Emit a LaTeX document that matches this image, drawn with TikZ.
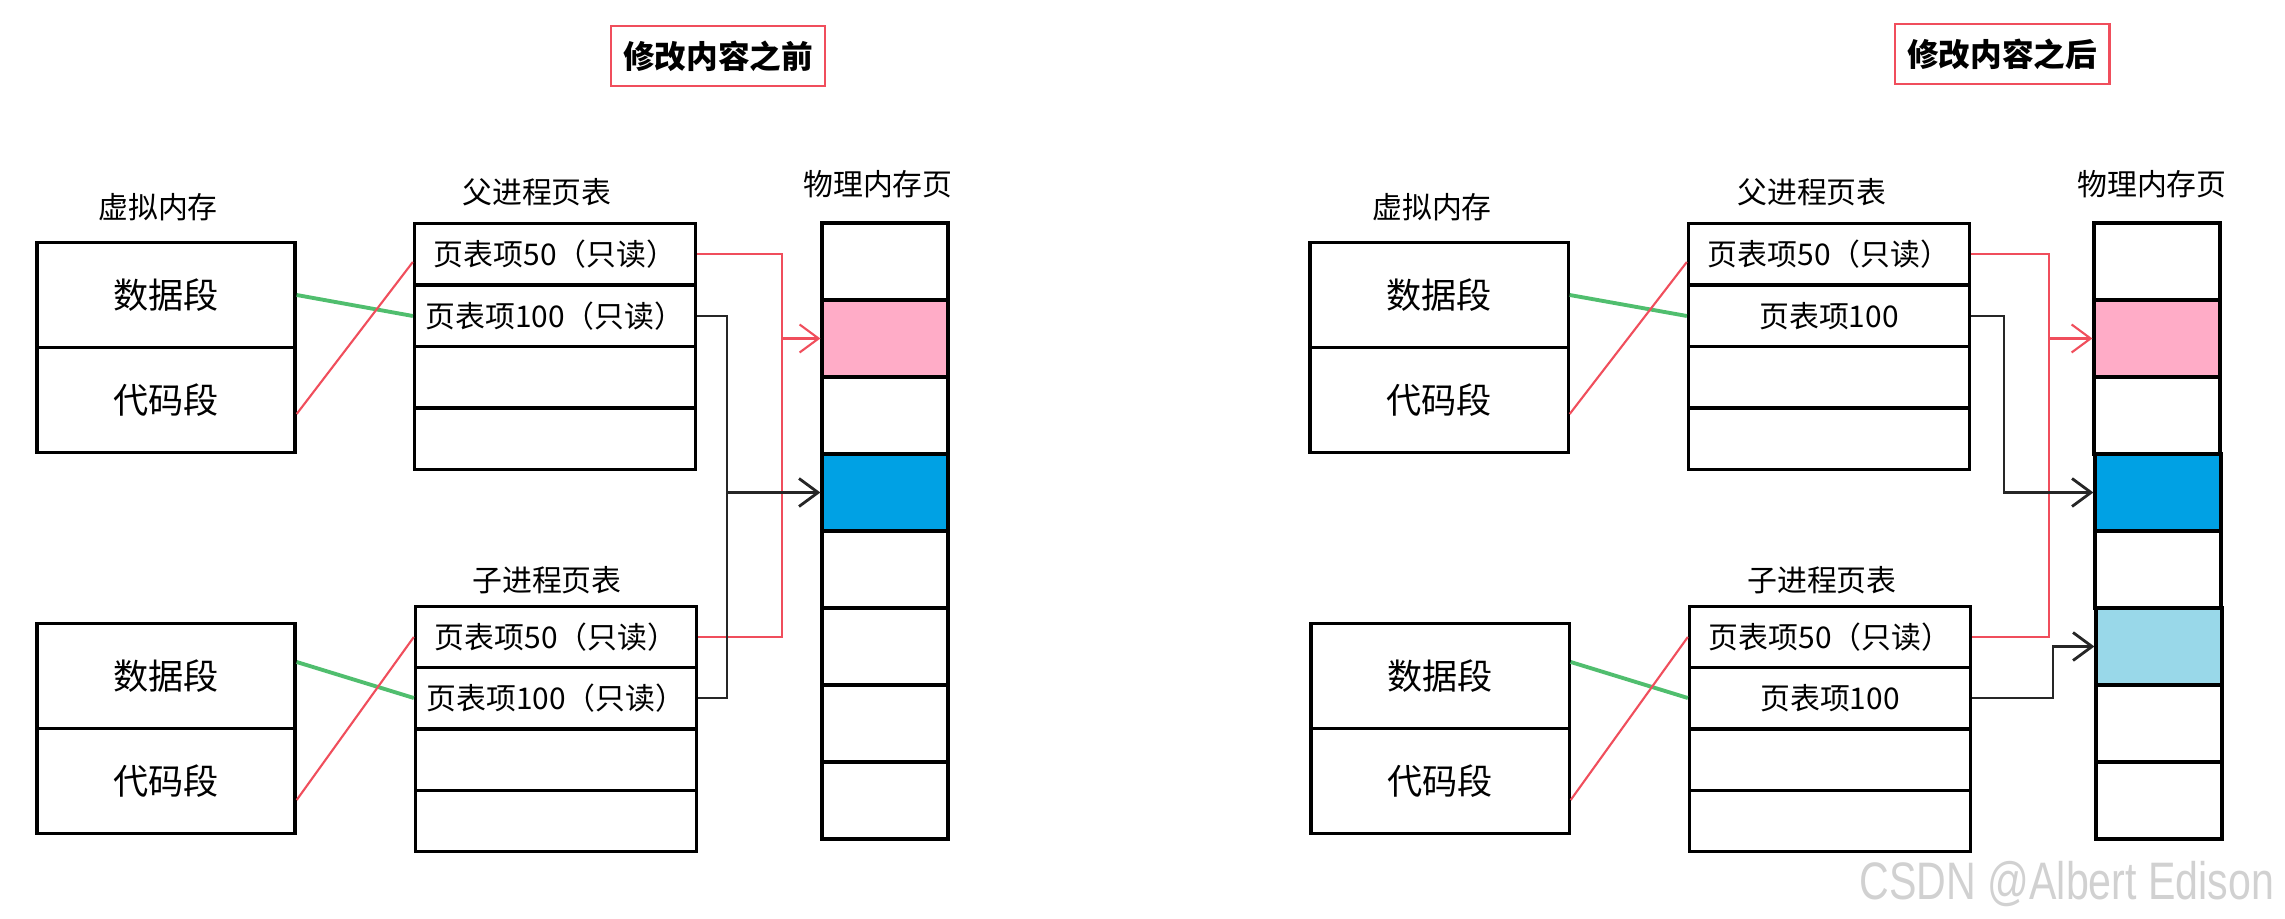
\documentclass[tikz,border=0pt]{standalone}
\usepackage{fontspec}
\setmainfont{Noto Sans CJK SC}
\newfontfamily\wmfont{Liberation Sans}
\usetikzlibrary{arrows.meta}

\definecolor{linered}{RGB}{240,78,92}
\definecolor{linegreen}{RGB}{80,190,110}
\definecolor{pagepink}{RGB}{255,172,199}
\definecolor{pageblue}{RGB}{0,161,228}
\definecolor{pagelight}{RGB}{153,216,233}

\tikzset{
  vcell/.style={draw, line width=0.9pt, minimum width=2.58cm, minimum height=1.05cm,
    inner sep=0pt, font=\fontsize{10}{12}\selectfont},
  pcell/.style={draw, line width=0.9pt, minimum width=2.81cm, minimum height=0.615cm,
    inner sep=0pt, font=\fontsize{8.5}{10}\selectfont},
  mcell/.style={draw, line width=0.9pt, minimum width=1.26cm, minimum height=0.77cm,
    inner sep=0pt},
  titlebox/.style={draw=linered, line width=0.8pt, minimum width=2.14cm,
    minimum height=0.6cm, font=\fontsize{9}{11}\selectfont\bfseries},
  lbl/.style={draw=none, font=\fontsize{8.5}{10}\selectfont},
  redwire/.style={draw=linered, line width=0.6pt},
  greenwire/.style={draw=linegreen, line width=1.1pt},
  blackwire/.style={draw=black!85, line width=0.8pt},
  barb/.style={-{Straight Barb[length=1.9mm,width=2.8mm]}},
}

\begin{document}
\begin{tikzpicture}[x=0.01cm, y=-0.01cm]
  \useasboundingbox (0,0) rectangle (2285,919);

  % before
  \node (t1) at (718,56) [titlebox] {修改内容之前};
  \node (vl) at (158,207) [lbl] {虚拟内存};
  \node (pl) at (537,192) [lbl] {父进程页表};
  \node (ml) at (878,184) [lbl] {物理内存页};
  \node (cl) at (547,580) [lbl] {子进程页表};

  \node (ds) at (166,295) [vcell] {数据段};
  \node (cs) at (166,400) [vcell] {代码段};
  \node (ds2) at (166,676) [vcell] {数据段};
  \node (cs2) at (166,781) [vcell] {代码段};

  \node (p1) at (555,254) [pcell] {页表项50（只读）};
  \node (p2) at (555,316) [pcell] {页表项100（只读）};
  \node (p3) at (555,377) [pcell] {};
  \node (p4) at (555,439) [pcell] {};
  \node (c1) at (556,637) [pcell] {页表项50（只读）};
  \node (c2) at (556,698) [pcell] {页表项100（只读）};
  \node (c3) at (556,760) [pcell] {};
  \node (c4) at (556,821) [pcell] {};

  \node (m1) at (885,261.5) [mcell] {};
  \node (m2) at (885,338.5) [mcell, fill=pagepink] {};
  \node (m3) at (885,415.5) [mcell] {};
  \node (m4) at (885,492.5) [mcell, fill=pageblue] {};
  \node (m5) at (885,569.5) [mcell] {};
  \node (m6) at (885,646.5) [mcell] {};
  \node (m7) at (885,723.5) [mcell] {};
  \node (m8) at (885,800.5) [mcell] {};

  \draw[greenwire] (ds.east) -- (p2.west);
  \draw[redwire] ([yshift=-0.14cm]cs.east) -- ([yshift=-0.08cm]p1.west);
  \draw[greenwire] ([yshift=0.14cm]ds2.east) -- (c2.west);
  \draw[redwire] ([yshift=-0.19cm]cs2.east) -- (c1.west);

  \coordinate (rv) at (782,0);
  \coordinate (bv) at (727,0);
  \draw[redwire] (p1.east) -- (rv |- p1.east) -- (rv |- c1.east) -- (c1.east);
  \draw[redwire, barb] (rv |- m2.west) -- (m2.west);
  \draw[blackwire] (p2.east) -- (bv |- p2.east) -- (bv |- c2.east) -- (c2.east);
  \draw[blackwire, barb] (bv |- m4.west) -- (m4.west);

  % after
  \begin{scope}[shift={(1273,0)}]
  \node (t2) at (729,54) [titlebox] {修改内容之后};
  \node (vr) at (159,207) [lbl] {虚拟内存};
  \node (pr) at (539,192) [lbl] {父进程页表};
  \node (mr) at (879,184) [lbl] {物理内存页};
  \node (cr) at (549,580) [lbl] {子进程页表};

  \node (rds) at (166,295) [vcell] {数据段};
  \node (rcs) at (166,400) [vcell] {代码段};
  \node (rds2) at (167,676) [vcell] {数据段};
  \node (rcs2) at (167,781) [vcell] {代码段};

  \node (rp1) at (556,254) [pcell] {页表项50（只读）};
  \node (rp2) at (556,316) [pcell] {页表项100};
  \node (rp3) at (556,377) [pcell] {};
  \node (rp4) at (556,439) [pcell] {};
  \node (rc1) at (557,637) [pcell] {页表项50（只读）};
  \node (rc2) at (557,698) [pcell] {页表项100};
  \node (rc3) at (557,760) [pcell] {};
  \node (rc4) at (557,821) [pcell] {};

  \node (rm1) at (884,261.5) [mcell] {};
  \node (rm2) at (884,338.5) [mcell, fill=pagepink] {};
  \node (rm3) at (884,415.5) [mcell] {};
  \node (rm4) at (885,492.5) [mcell, fill=pageblue] {};
  \node (rm5) at (885,569.5) [mcell] {};
  \node (rm6) at (886,646.5) [mcell, fill=pagelight] {};
  \node (rm7) at (886,723.5) [mcell] {};
  \node (rm8) at (886,800.5) [mcell] {};

  \draw[greenwire] (rds.east) -- (rp2.west);
  \draw[redwire] ([yshift=-0.14cm]rcs.east) -- ([yshift=-0.08cm]rp1.west);
  \draw[greenwire] ([yshift=0.14cm]rds2.east) -- (rc2.west);
  \draw[redwire] ([yshift=-0.19cm]rcs2.east) -- (rc1.west);

  \coordinate (rrv) at (776,0);
  \coordinate (rbv) at (731,0);
  \coordinate (rcv) at (780,0);
  \draw[redwire] (rp1.east) -- (rrv |- rp1.east) -- (rrv |- rc1.east) -- (rc1.east);
  \draw[redwire, barb] (rrv |- rm2.west) -- (rm2.west);
  \draw[blackwire, barb] (rp2.east) -- (rbv |- rp2.east) -- (rbv |- rm4.west) -- (rm4.west);
  \draw[blackwire, barb] (rc2.east) -- (rcv |- rc2.east) -- (rcv |- rm6.west) -- (rm6.west);
  \end{scope}

  \node (wm) at (2067,884) [draw=none, text=black!18, xscale=0.78,
    font=\wmfont\fontsize{15}{18}\selectfont] {CSDN @Albert Edison};
\end{tikzpicture}
\end{document}
